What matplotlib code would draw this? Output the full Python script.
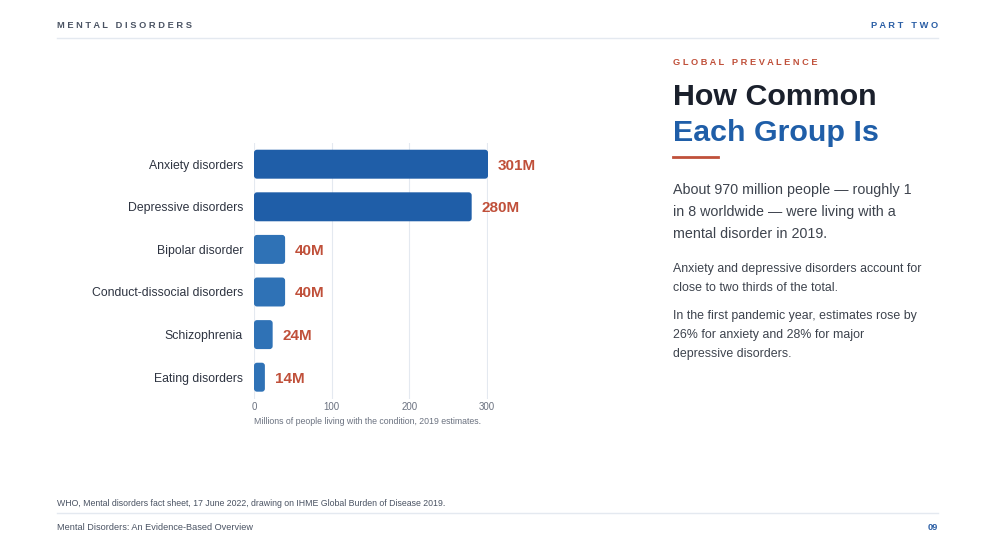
import matplotlib.pyplot as plt
from matplotlib.patches import FancyBboxPatch
from matplotlib.lines import Line2D

plt.rcParams['font.family'] = ['Liberation Sans', 'DejaVu Sans']

categories = ["Anxiety disorders", "Depressive disorders", "Bipolar disorder",
              "Conduct-dissocial disorders", "Schizophrenia", "Eating disorders"]
values = [301, 280, 40, 40, 24, 14]
value_labels = ["301M", "280M", "40M", "40M", "24M", "14M"]
xticks = [0, 100, 200, 300]

DARK = "#1f5ea8"
LIGHT = "#2f72b6"
RED = "#c0503a"
INK = "#1a202c"
GRAY = "#6b7280"
BODY = "#3d434d"
RULE = "#e4e9f0"

fig = plt.figure(figsize=(9.93, 5.59), dpi=100)
W, H = 993, 559

def fx(px):
    return px / W

def fy(py):
    return 1 - py / H

def spaced(s):
    return "   ".join(" ".join(w) for w in s.split(" "))

# header
fig.text(fx(57), fy(26), spaced("MENTAL DISORDERS"), fontsize=6.7, fontweight="bold",
         color="#4a5363", va="center", ha="left")
fig.text(fx(938), fy(26), spaced("PART TWO"), fontsize=6.7, fontweight="bold",
         color="#2a5ea5", va="center", ha="right")
fig.add_artist(Line2D([fx(57), fx(938)], [fy(38), fy(38)], color=RULE, lw=1))

# chart
ax = fig.add_axes([fx(254), fy(398.5), fx(234), 255.6 / H])
ypos = list(range(len(categories)))
bars = ax.barh(ypos, values, height=0.68, color=[DARK, DARK, LIGHT, LIGHT, LIGHT, LIGHT])
ax.set_xlim(0, 301)
ax.set_ylim(len(categories) - 0.5, -0.5)

# rounded bar corners (3px)
xpx = 234 / 301
ypx = 255.6 / len(categories)
r = 3 / xpx
for b in bars:
    x0, y0 = b.get_x(), b.get_y()
    w, h = b.get_width(), b.get_height()
    p = FancyBboxPatch((x0, y0), w, h, boxstyle=f"round,pad=0,rounding_size={r}",
                       mutation_aspect=(3 / ypx) / r, facecolor=b.get_facecolor(),
                       edgecolor="none", zorder=3)
    b.set_visible(False)
    ax.add_patch(p)

for yv, v, lab in zip(ypos, values, value_labels):
    ax.annotate(lab, (v, yv), xytext=(7, 0), textcoords="offset points",
                ha="left", va="center_baseline", fontsize=11, fontweight="bold", color=RED,
                annotation_clip=False)

ax.set_yticks(ypos)
ax.set_yticklabels(categories, fontsize=8.8, color="#2d3340")
ax.set_xticks(xticks)
ax.set_xticklabels([str(t) for t in xticks], fontsize=7, color=GRAY)
ax.tick_params(axis="both", length=0)
ax.tick_params(axis="y", pad=8)
ax.tick_params(axis="x", pad=2.5)
ax.grid(axis="x", color=RULE, lw=0.8, zorder=0)
ax.set_axisbelow(True)
for s in ax.spines.values():
    s.set_visible(False)
ax.set_xlabel("Millions of people living with the condition, 2019 estimates.",
              fontsize=6.3, color=GRAY, labelpad=3.5, loc="left")

# right column
fig.text(fx(673), fy(62), spaced("GLOBAL PREVALENCE"), fontsize=6.7, fontweight="bold",
         color=RED, va="center", ha="left")
fig.text(fx(673), fy(97), "How Common", fontsize=21.9, fontweight="bold",
         color=INK, va="center", ha="left")
fig.text(fx(673), fy(133), "Each Group Is", fontsize=21.9, fontweight="bold",
         color="#1f5ea8", va="center", ha="left")
fig.add_artist(Line2D([fx(673), fx(718)], [fy(157), fy(157)], color=RED, lw=2))

para1 = ["About 970 million people \u2014 roughly 1",
         "in 8 worldwide \u2014 were living with a",
         "mental disorder in 2019."]
for i, line in enumerate(para1):
    fig.text(fx(673), fy(190 + 22 * i), line, fontsize=10.25, color=BODY,
             va="center", ha="left")

para2 = ["Anxiety and depressive disorders account for",
         "close to two thirds of the total."]
for i, line in enumerate(para2):
    fig.text(fx(673), fy(269 + 19 * i), line, fontsize=8.9, color=BODY,
             va="center", ha="left")

para3 = ["In the first pandemic year, estimates rose by",
         "26% for anxiety and 28% for major",
         "depressive disorders."]
for i, line in enumerate(para3):
    fig.text(fx(673), fy(316 + 19 * i), line, fontsize=8.9, color=BODY,
             va="center", ha="left")

# footer
fig.text(fx(57), fy(503), "WHO, Mental disorders fact sheet, 17 June 2022, drawing on IHME Global Burden of Disease 2019.",
         fontsize=6.3, color="#4a5363", va="center", ha="left")
fig.add_artist(Line2D([fx(57), fx(938)], [fy(513), fy(513)], color=RULE, lw=1))
fig.text(fx(57), fy(528), "Mental Disorders: An Evidence-Based Overview",
         fontsize=6.6, color="#4a5363", va="center", ha="left")
fig.text(fx(938), fy(528), "09", fontsize=6.6, fontweight="bold",
         color="#2a5ea5", va="center", ha="right")

fig.savefig("out.png", dpi=100, facecolor="white")
